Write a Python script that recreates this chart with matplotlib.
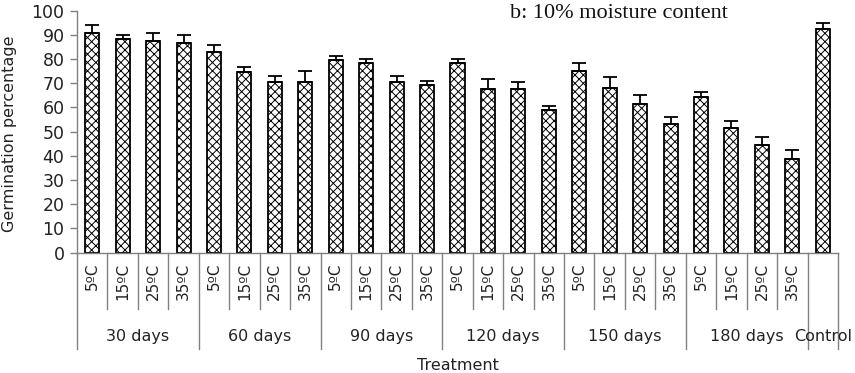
import matplotlib
matplotlib.use("Agg")
import matplotlib.pyplot as plt
import numpy as np
from matplotlib.lines import Line2D

plt.rcParams['hatch.linewidth'] = 0.7

groups = ["30 days", "60 days", "90 days", "120 days", "150 days", "180 days"]
temps = ["5ºC", "15ºC", "25ºC", "35ºC"]
control_label = "Control"

values = [90.6, 88.3, 87.6, 86.7,
          82.9, 74.6, 70.4, 70.4,
          79.5, 78.4, 70.4, 69.2,
          78.4, 67.8, 67.8, 58.8,
          75.0, 67.9, 61.3, 53.0,
          64.5, 51.5, 44.4, 38.8,
          92.5]
errors = [3.3, 1.6, 3.0, 3.2,
          3.1, 2.2, 2.7, 4.6,
          1.8, 1.7, 2.8, 1.8,
          1.7, 3.9, 2.7, 1.8,
          3.3, 4.5, 3.9, 3.0,
          1.9, 2.8, 3.3, 3.5,
          2.5]

W, H = 855, 373
fig = plt.figure(figsize=(W / 100, H / 100), dpi=100)
ax_left, ax_right, ax_top, ax_bot = 77, 838, 10.7, 252.5
ax = fig.add_axes([ax_left / W, 1 - ax_bot / H, (ax_right - ax_left) / W, (ax_bot - ax_top) / H])
ax_h = ax_bot - ax_top
ax_w = ax_right - ax_left

n = len(values)
x = np.arange(n) + 0.5
ax.bar(x, values, width=0.46, color='white', edgecolor='black', linewidth=1.3,
       hatch='xxxx', zorder=2)
ax.errorbar(x, values, yerr=[np.zeros(n), errors], fmt='none', ecolor='black',
            elinewidth=1.3, capsize=5, capthick=1.3, zorder=3)

ax.set_xlim(0, n)
ax.set_ylim(0, 100)
ax.set_yticks(np.arange(0, 101, 10))
ax.tick_params(axis='y', length=5, width=1, color='#808080', labelsize=12.5,
               labelcolor='#222222', pad=4)
ax.set_xticks([])
for s in ['top', 'right']:
    ax.spines[s].set_visible(False)
for s in ['left', 'bottom']:
    ax.spines[s].set_color('#808080')
    ax.spines[s].set_linewidth(1)

tr = ax.get_xaxis_transform()

def fy(px_below):
    return -px_below / ax_h

# temperature labels
for gi, g in enumerate(groups):
    for ti, t in enumerate(temps):
        i = gi * 4 + ti
        ax.text(x[i], fy(10), t, rotation=90, ha='center', va='top',
                fontsize=11, color='#222222', transform=tr, clip_on=False)
    ax.text(gi * 4 + 2, fy(84), g, ha='center', va='center', fontsize=11.5,
            color='#222222', transform=tr, clip_on=False)
ax.text(n - 0.5, fy(84), control_label, ha='center', va='center', fontsize=11.5,
        color='#222222', transform=tr, clip_on=False)

# dividers
for k in range(n + 1):
    if k % 4 == 0 or k == n:
        y1 = fy(96)
    else:
        y1 = fy(56)
    ax.add_line(Line2D([k, k], [0, y1], color='#808080', linewidth=1,
                       transform=tr, clip_on=False))

ax.set_ylabel("Germination percentage", fontsize=11.5, color='#222222')
ax.yaxis.set_label_coords(-(ax_left - 17) / ax_w, (ax_bot - 134) / ax_h)
fig.text(0.5 * (ax_left + ax_right) / W, 1 - 365 / H, "Treatment", ha='center',
         va='center', fontsize=11.5, color='#222222')

fig.text(510 / W, 1 - 13 / H, "b: 10% moisture content", ha='left', va='center',
         fontsize=16, family='Liberation Serif', color='#111111')

fig.savefig("out.png", dpi=100)
